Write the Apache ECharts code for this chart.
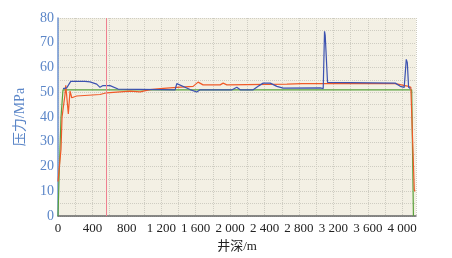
<!DOCTYPE html>
<html><head><meta charset="utf-8">
<script src="https://cdn.jsdelivr.net/npm/echarts@6/dist/echarts.min.js"></script>
<style>html,body{margin:0;padding:0;background:#fff}#c{width:452px;height:258px}</style>
</head><body><div id="c"></div>
<script>
// depth (m), pressure (MPa)
var blueDepth = [58, 101, 148, 314, 372, 450, 488, 523, 605, 698, 1186, 1361, 1380, 1535, 1613, 1651, 2023, 2078, 2117, 2268, 2326, 2384, 2466, 2543, 2617, 3047, 3082, 3097, 3105, 3132, 3919, 3977, 4023, 4047, 4059, 4074, 4094];
var blueP     = [51.5, 51.8, 54.4, 54.4, 54.2, 53.3, 52.0, 52.7, 52.7, 51.3, 51.1, 51.0, 53.5, 51.1, 50.1, 51.0, 51.0, 52.0, 51.0, 51.0, 52.4, 53.7, 53.7, 52.4, 51.7, 51.8, 51.5, 74.6, 73.0, 54.0, 53.7, 52.4, 52.0, 63.3, 62.0, 52.0, 51.5];
var orangeDepth = [0, 20, 35, 47, 81, 90, 120, 140, 160, 217, 488, 566, 837, 954, 1070, 1186, 1380, 1570, 1628, 1686, 1884, 1919, 1962, 2660, 2834, 3919, 4074, 4100, 4140, 4150];
var orangeP     = [14, 14, 27, 40, 49, 52.8, 41.3, 50.5, 47.8, 48.5, 49.1, 49.8, 50.5, 50.2, 51.1, 51.5, 52.0, 52.4, 54.1, 53.0, 53.0, 53.7, 53.0, 53.3, 53.5, 53.5, 52.4, 52.0, 10.6, 10.0];
var greenDepth = [0, 12, 35, 58, 4110, 4130];
var greenP     = [0, 15, 40, 51, 51, 0];
var markDepth = 560;
var xTicks = [0, 400, 800, 1200, 1600, 2000, 2400, 2800, 3200, 3600, 4000];

function pairs(a, b) { return a.map(function (v, i) { return [v, b[i]]; }); }
function fmt(v) { return String(v).replace(/\B(?=(\d{3})+(?!\d))/g, ' '); }

var chart = echarts.init(document.getElementById('c'));
var serif = '"Liberation Serif", "Noto Sans CJK SC", serif';
chart.setOption({
  animation: false,
  grid: { left: 58, right: 36, top: 18, bottom: 36, show: true, backgroundColor: '#f3f0e4', borderWidth: 0 },
  xAxis: {
    type: 'value', min: 0, max: 4160, interval: 400,
    name: '井深/m', nameLocation: 'middle', nameGap: 22,
    nameTextStyle: { fontFamily: serif, fontSize: 13, color: '#222' },
    axisLine: { lineStyle: { color: '#666', width: 1.5 } },
    axisTick: { show: false },
    axisLabel: { fontFamily: serif, fontSize: 13, color: '#222', margin: 6, showMaxLabel: false,
      formatter: function (v) { return xTicks.indexOf(v) >= 0 ? fmt(v) : ''; } },
    splitLine: { show: true, lineStyle: { color: '#cfcdc2', type: 'dotted' } },
    minorTick: { show: false, splitNumber: 2 },
    minorSplitLine: { show: true, lineStyle: { color: '#cfcdc2', type: 'dotted' } }
  },
  yAxis: {
    type: 'value', min: 0, max: 80, interval: 10,
    name: '压力/MPa', nameLocation: 'middle', nameGap: 31,
    nameTextStyle: { fontFamily: serif, fontSize: 14, color: '#5b86c8' },
    axisLine: { show: true, lineStyle: { color: '#6f94d2', width: 1.5 } },
    axisTick: { show: false },
    axisLabel: { fontFamily: serif, fontSize: 14, color: '#5b86c8', margin: 4 },
    splitLine: { show: true, lineStyle: { color: '#cfcdc2', type: 'dotted' } },
    minorTick: { show: false, splitNumber: 2 },
    minorSplitLine: { show: true, lineStyle: { color: '#cfcdc2', type: 'dotted' } }
  },
  series: [
    { type: 'line', data: pairs(greenDepth, greenP), showSymbol: false, lineStyle: { color: '#5aa13c', width: 1.2 }, z: 2 },
    { type: 'line', data: pairs(orangeDepth, orangeP), showSymbol: false, lineStyle: { color: '#f05a28', width: 1.2 }, z: 3 },
    { type: 'line', data: pairs(blueDepth, blueP), showSymbol: false, lineStyle: { color: '#3c52b0', width: 1.2 }, z: 4,
      markLine: { silent: true, symbol: 'none', label: { show: false },
        lineStyle: { color: '#ee8090', type: 'solid', width: 1 }, data: [{ xAxis: markDepth }] } }
  ]
});
</script></body></html>
